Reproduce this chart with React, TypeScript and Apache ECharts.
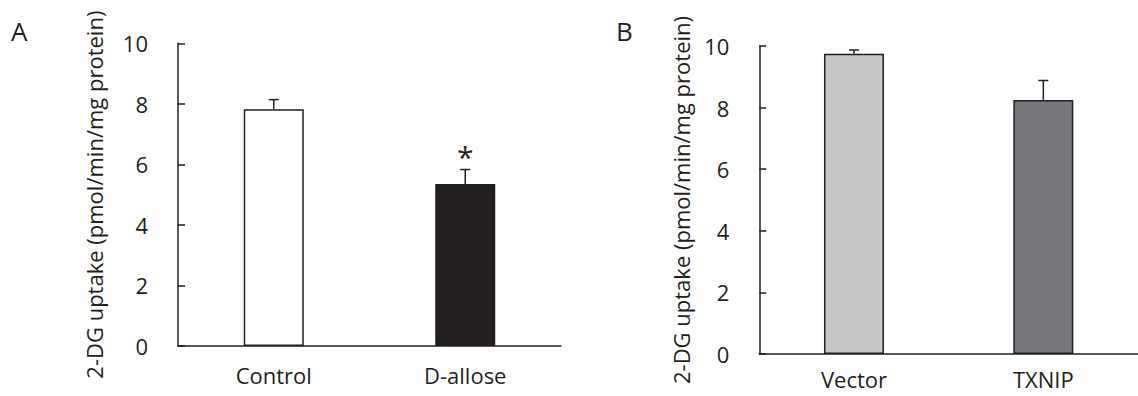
import React, { useEffect, useRef } from "react";
import * as echarts from "echarts";

const catsA = ["Control", "D-allose"];
const valsA = [7.82, 5.35];
const errsA = [0.32, 0.48];
const sigA = ["", "*"];
const colorsA = ["#ffffff", "#231f20"];

const catsB = ["Vector", "TXNIP"];
const valsB = [9.75, 8.25];
const errsB = [0.12, 0.63];
const sigB = ["", ""];
const colorsB = ["#c6c7c9", "#77787b"];

const yTitle = "2-DG uptake (pmol/min/mg protein)";
const panelLabels = ["A", "B"];

const INK = "#231f20";
const FONT = "'Open Sans', sans-serif";
const FS = 22;

function errSeries(idx: number, vals: number[], errs: number[], sig: string[]) {
  return {
    type: "custom",
    xAxisIndex: idx,
    yAxisIndex: idx,
    z: 5,
    data: vals.map((v, i) => [i, v, v + errs[i], sig[i]]),
    renderItem: (params: any, api: any) => {
      const x = api.value(0);
      const lo = api.coord([x, api.value(1)]);
      const hi = api.coord([x, api.value(2)]);
      const s = api.value(3);
      const half = 5;
      const children: any[] = [
        {
          type: "line",
          shape: { x1: lo[0], y1: lo[1], x2: hi[0], y2: hi[1] },
          style: { stroke: INK, lineWidth: 1.5 },
        },
        {
          type: "line",
          shape: { x1: hi[0] - half, y1: hi[1], x2: hi[0] + half, y2: hi[1] },
          style: { stroke: INK, lineWidth: 1.5 },
        },
      ];
      if (s) {
        children.push({
          type: "text",
          x: hi[0],
          y: hi[1] + 2,
          style: {
            text: s,
            fill: INK,
            fontSize: 30,
            fontFamily: FONT,
            align: "center",
            verticalAlign: "bottom",
          },
        });
      }
      return { type: "group", children };
    },
  };
}

function barSeries(idx: number, vals: number[], colors: string[]) {
  return {
    type: "bar",
    xAxisIndex: idx,
    yAxisIndex: idx,
    barWidth: 60,
    data: vals.map((v, i) => ({
      value: v,
      itemStyle: { color: colors[i], borderColor: INK, borderWidth: 1.5 },
    })),
  };
}

export default function App() {
  const ref = useRef<HTMLDivElement>(null);
  useEffect(() => {
    document.body.style.margin = "0";
    const chart = echarts.init(ref.current!, null, { renderer: "svg" });
    const yAxisBase = (gap: number) => ({
      type: "value",
      min: 0,
      max: 10,
      interval: 2,
      name: yTitle,
      nameLocation: "middle",
      nameRotate: 90,
      nameGap: gap,
      nameTextStyle: { fontFamily: FONT, fontSize: FS, color: INK },
      axisLine: { show: true, lineStyle: { color: INK, width: 1.5 } },
      axisTick: { show: true, inside: true, length: 7, lineStyle: { color: INK, width: 1.5 } },
      axisLabel: { fontFamily: FONT, fontSize: FS, color: INK, margin: 30 },
      splitLine: { show: false },
    });
    const xAxisBase = (cats: string[], gi: number, margin: number) => ({
      type: "category",
      gridIndex: gi,
      data: cats,
      axisLine: { show: true, lineStyle: { color: INK, width: 1.5 } },
      axisTick: { show: false },
      axisLabel: { fontFamily: FONT, fontSize: FS, color: INK, margin },
    });
    chart.setOption({
      animation: false,
      grid: [
        { left: 178, top: 43.3, width: 383, height: 302.7 },
        { left: 759.3, top: 46, width: 386, height: 308 },
      ],
      xAxis: [xAxisBase(catsA, 0, 18), xAxisBase(catsB, 1, 14)],
      yAxis: [
        { ...yAxisBase(73), gridIndex: 0 },
        { ...yAxisBase(67), gridIndex: 1 },
      ],
      graphic: [
        {
          type: "text",
          left: 11,
          top: 18,
          style: { text: panelLabels[0], fontSize: 26, fontFamily: FONT, fill: INK },
        },
        {
          type: "text",
          left: 616,
          top: 18,
          style: { text: panelLabels[1], fontSize: 26, fontFamily: FONT, fill: INK },
        },
      ],
      series: [
        barSeries(0, valsA, colorsA),
        errSeries(0, valsA, errsA, sigA),
        barSeries(1, valsB, colorsB),
        errSeries(1, valsB, errsB, sigB),
      ],
    });
    return () => chart.dispose();
  }, []);
  return <div ref={ref} style={{ width: 1138, height: 396 }} />;
}
